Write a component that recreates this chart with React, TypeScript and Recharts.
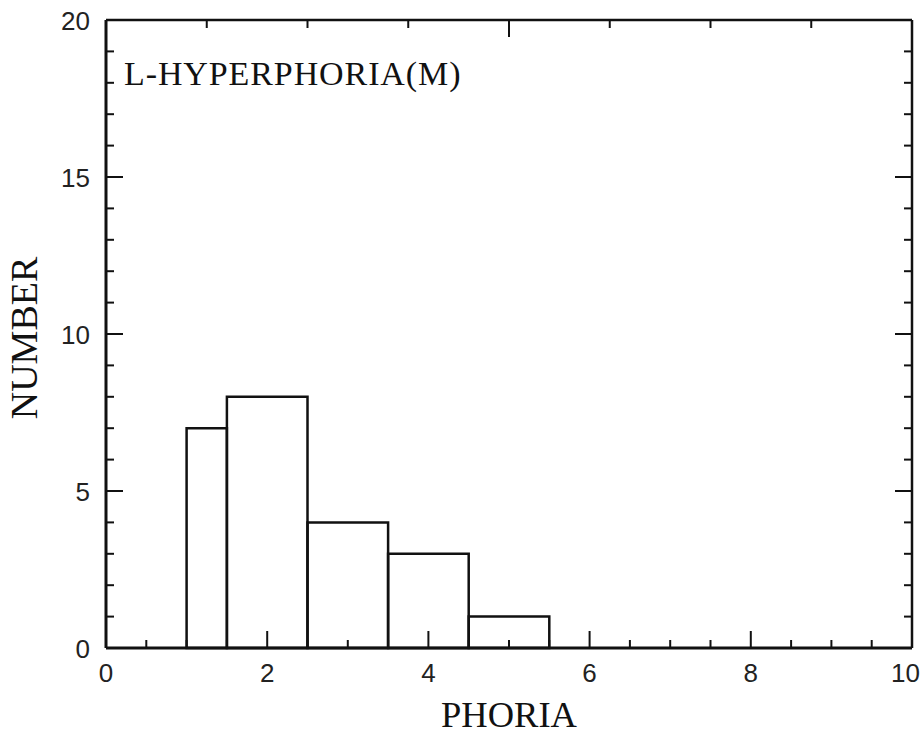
import React from "react";
import {
  ComposedChart,
  XAxis,
  YAxis,
  Scatter,
  ReferenceArea,
  Label,
} from "recharts";

// Histogram bins (PHORIA) and counts (NUMBER)
const binStarts = [1, 1.5, 2.5, 3.5, 4.5];
const binEnds = [1.5, 2.5, 3.5, 4.5, 5.5];
const counts = [7, 8, 4, 3, 1];

// Axis ticks
const xTicks = [0, 0.5, 1, 1.5, 2, 2.5, 3, 3.5, 4, 4.5, 5, 5.5, 6, 6.5, 7, 7.5, 8, 8.5, 9, 9.5, 10];
const xMajorTicks = [0, 2, 4, 6, 8, 10];
const yTicks = [0, 1, 2, 3, 4, 5, 6, 7, 8, 9, 10, 11, 12, 13, 14, 15, 16, 17, 18, 19, 20];
const yMajorTicks = [0, 5, 10, 15, 20];

const title = "L-HYPERPHORIA(M)";
const xTitle = "PHORIA";
const yTitle = "NUMBER";

const bins = binStarts.map((s, i) => ({
  start: s,
  end: binEnds[i],
  mid: (s + binEnds[i]) / 2,
  count: counts[i],
}));

const INK = "#111";
const tickFont = { fontFamily: "'Liberation Sans', Arial, sans-serif", fontSize: 26, fill: "#222" };
const serif = "'Liberation Serif', 'Times New Roman', serif";

const BottomTick = (props: any) => {
  const { x, y, payload } = props;
  const v = payload.value;
  const major = xMajorTicks.includes(v);
  const last = v === xMajorTicks[xMajorTicks.length - 1];
  return (
    <g>
      <line x1={x} x2={x} y1={y} y2={y - (major ? 17 : 8)} stroke={INK} strokeWidth={2} />
      {major && (
        <text
          x={last ? x + 8 : x}
          y={y + 34}
          textAnchor={last ? "end" : "middle"}
          {...tickFont}
        >
          {v}
        </text>
      )}
    </g>
  );
};

const TopTick = (props: any) => {
  const { x, y, payload } = props;
  const major = xMajorTicks.includes(payload.value);
  return <line x1={x} x2={x} y1={y} y2={y + (major ? 17 : 8)} stroke={INK} strokeWidth={2} />;
};

const LeftTick = (props: any) => {
  const { x, y, payload } = props;
  const v = payload.value;
  const major = yMajorTicks.includes(v);
  return (
    <g>
      <line x1={x} x2={x + (major ? 17 : 8)} y1={y} y2={y} stroke={INK} strokeWidth={2} />
      {major && (
        <text x={x - 16} y={y + 9.5} textAnchor="end" {...tickFont}>
          {v}
        </text>
      )}
    </g>
  );
};

const RightTick = (props: any) => {
  const { x, y, payload } = props;
  const major = yMajorTicks.includes(payload.value);
  return <line x1={x} x2={x - (major ? 17 : 8)} y1={y} y2={y} stroke={INK} strokeWidth={2} />;
};

export default function App() {
  return (
    <div style={{ position: "absolute", left: 0, top: 0, width: 923, height: 737, background: "#fff" }}>
      <ComposedChart
        width={923}
        height={737}
        data={bins}
        margin={{ top: 0, right: 0, bottom: 0, left: 0 }}
      >
        <XAxis
          xAxisId="b"
          type="number"
          dataKey="mid"
          domain={[0, 10]}
          ticks={xTicks}
          interval={0}
          orientation="bottom"
          height={89}
          tickSize={0}
          tickMargin={0}
          tickLine={false}
          tick={BottomTick}
          axisLine={{ stroke: INK, strokeWidth: 3 }}
          allowDataOverflow
        >
          <Label
            content={(p: any) => {
              const vb = p.viewBox || {};
              return (
                <text
                  x={vb.x + vb.width / 2}
                  y={727}
                  textAnchor="middle"
                  fontFamily={serif}
                  fontSize={36.5}
                  fill={INK}
                >
                  {xTitle}
                </text>
              );
            }}
          />
        </XAxis>
        <XAxis
          xAxisId="t"
          type="number"
          domain={[0, 10]}
          ticks={xTicks}
          interval={0}
          orientation="top"
          height={20}
          tickSize={0}
          tickMargin={0}
          tickLine={false}
          tick={TopTick}
          axisLine={{ stroke: INK, strokeWidth: 2.5 }}
          allowDataOverflow
        >
          <Label
            content={(p: any) => {
              const vb = p.viewBox || {};
              return (
                <text
                  x={vb.x + 18}
                  y={85}
                  textAnchor="start"
                  fontFamily={serif}
                  fontSize={34}
                  letterSpacing={0.9}
                  fill={INK}
                >
                  {title}
                </text>
              );
            }}
          />
        </XAxis>
        <YAxis
          yAxisId="l"
          type="number"
          domain={[0, 20]}
          ticks={yTicks}
          interval={0}
          orientation="left"
          width={106}
          tickSize={0}
          tickMargin={0}
          tickLine={false}
          tick={LeftTick}
          axisLine={{ stroke: INK, strokeWidth: 3 }}
          allowDataOverflow
        >
          <Label
            content={() => (
              <text
                x={37}
                y={338}
                transform="rotate(-90, 37, 338)"
                textAnchor="middle"
                fontFamily={serif}
                fontSize={38}
                fill={INK}
              >
                {yTitle}
              </text>
            )}
          />
        </YAxis>
        <YAxis
          yAxisId="r"
          type="number"
          domain={[0, 20]}
          ticks={yTicks}
          interval={0}
          orientation="right"
          width={11}
          tickSize={0}
          tickMargin={0}
          tickLine={false}
          tick={RightTick}
          axisLine={{ stroke: INK, strokeWidth: 2.5 }}
          allowDataOverflow
        />
        {bins.map((b, i) => (
          <ReferenceArea
            key={i}
            xAxisId="b"
            yAxisId="l"
            x1={b.start}
            x2={b.end}
            y1={0}
            y2={b.count}
            fill="#fff"
            fillOpacity={0}
            stroke={INK}
            strokeWidth={2.5}
            ifOverflow="visible"
          />
        ))}
        <Scatter
          xAxisId="b"
          yAxisId="l"
          dataKey="count"
          isAnimationActive={false}
          shape={() => <g />}
        />
      </ComposedChart>
    </div>
  );
}
